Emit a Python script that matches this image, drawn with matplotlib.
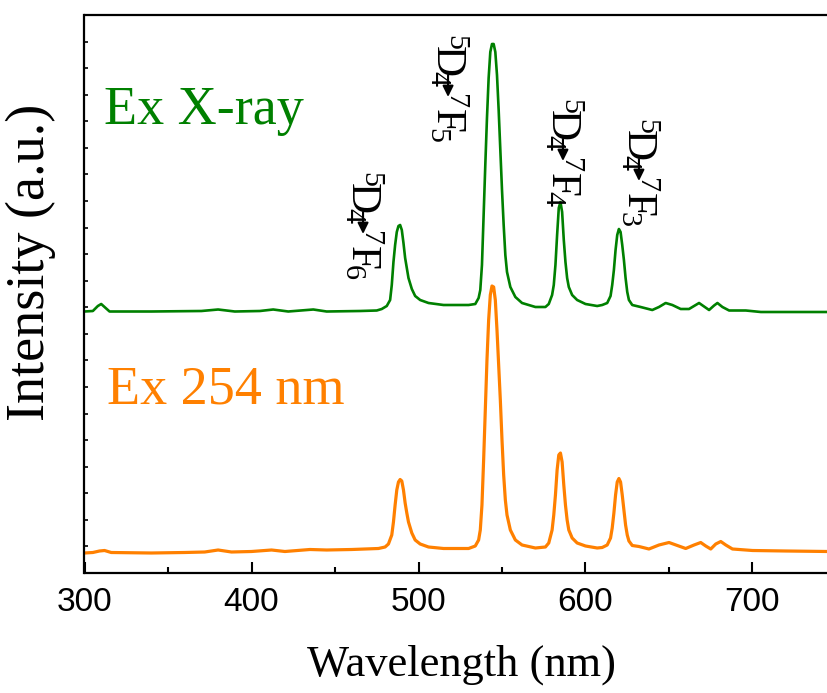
import matplotlib
matplotlib.use("Agg")
import matplotlib.pyplot as plt
from matplotlib.ticker import MultipleLocator

plt.rcParams['mathtext.fontset'] = 'custom'
plt.rcParams['mathtext.rm'] = 'Liberation Serif'
plt.rcParams['mathtext.it'] = 'Liberation Serif:italic'
plt.rcParams['mathtext.bf'] = 'Liberation Serif:bold'

# ---------------- data ----------------
wl_xray = [300, 305, 308, 310, 312, 315, 340, 370, 380, 390, 405, 413, 422, 437, 445,
           465, 475, 478, 481, 483, 484, 485, 486, 487, 488, 489, 490, 491, 492, 493,
           494, 496, 498, 501, 506, 515, 530, 534, 536, 537, 538, 539, 540, 541, 542,
           543, 544, 545, 546, 547, 548, 549, 550, 551, 552, 553, 555, 558, 562, 570,
           576, 578, 580, 581, 582, 583, 584, 585, 586, 587, 588, 589, 590, 592, 595,
           600, 607, 610, 613, 615, 616, 617, 618, 619, 620, 621, 622, 623, 624, 625,
           626, 628, 633, 640, 644, 648, 652, 657, 662, 668, 671, 674, 677, 679, 682,
           686, 696, 705, 745]
int_xray = [261.5, 262, 267, 269, 266, 261.5, 261.5, 262, 263.5, 261.5, 262, 263.5, 261.5, 263.5, 261.5,
            262, 262.5, 264, 267, 273, 288, 311, 328, 341, 347, 348, 343, 330, 315, 305,
            295, 284, 277, 273, 270, 268, 268, 269, 275, 283, 308, 358, 408, 455, 495,
            521, 529, 529, 521, 498, 463, 423, 383, 348, 318, 301, 286, 276, 270, 266,
            266, 269, 278, 288, 308, 338, 365, 371, 361, 333, 311, 295, 286, 278, 273,
            269, 267, 268, 270, 277, 288, 303, 323, 338, 344, 341, 328, 313, 295, 281,
            273, 268, 266, 263, 266, 270, 268, 264, 264, 270, 266.5, 263, 267.5, 270, 266,
            262.5, 262.5, 261, 261]

wl_uv = [300, 305, 309, 312, 316, 340, 360, 372, 380, 388, 400, 412, 420, 435, 445,
         460, 476, 480, 482, 484, 485, 486, 487, 488, 489, 490, 491, 492, 493, 494,
         496, 498, 501, 506, 515, 530, 534, 536, 537, 538, 539, 540, 541, 542, 543,
         544, 545, 546, 547, 548, 549, 550, 551, 552, 553, 555, 558, 562, 570, 576,
         578, 580, 581, 582, 583, 584, 585, 586, 587, 588, 589, 590, 592, 595, 600,
         607, 610, 613, 615, 616, 617, 618, 619, 620, 621, 622, 623, 624, 625, 626,
         628, 632, 638, 644, 650, 655, 660, 665, 669, 672, 675, 678, 681, 684, 688,
         700, 720, 745]
int_uv = [20, 20.5, 22, 22.5, 20.5, 20, 20.5, 21, 23, 21, 21.5, 23, 21.5, 23.5, 23,
          23.5, 24.5, 26, 29, 38, 51, 68, 83, 91, 93.5, 92, 83, 70, 60, 51,
          40, 33, 29, 26, 24.5, 24.5, 27, 33, 43, 68, 113, 163, 213, 253, 278,
          287, 286, 273, 243, 208, 173, 133, 98, 73, 58, 43, 33, 28, 25, 26,
          30, 43, 58, 78, 103, 118, 120, 111, 88, 68, 53, 43, 35, 30, 27,
          25, 25.5, 28, 35, 45, 60, 78, 91, 94.5, 91, 78, 63, 48, 38, 32,
          27.5, 26.5, 24, 28, 30.5, 27.5, 24.5, 28, 30.5, 27, 24, 29, 31.5, 28, 24,
          22.5, 22, 21.5]

series_labels = ["Ex X-ray", "Ex 254 nm"]
series_colors = ["#008000", "#FF8000"]

upper_levels = [r"$^{5}\!$D$\!{}_{4}$"] * 4
lower_levels = [r"$^{7}$F$\!{}_{6}$", r"$^{7}$F$\!{}_{5}$",
                r"$^{7}$F$\!{}_{4}$", r"$^{7}$F$\!{}_{3}$"]
label_x = [466.8, 517.7, 586.5, 632.0]
label_top = [403, 540, 476, 456]

x_ticks = [300, 400, 500, 600, 700]

# ---------------- figure ----------------
fig = plt.figure(figsize=(8.28, 6.93), dpi=100)
ax = fig.add_axes([84.5 / 828, 1 - 573 / 693, 751.5 / 828, 558 / 693])

ax.plot(wl_xray, int_xray, color=series_colors[0], lw=1.9, solid_joinstyle='round')
ax.plot(wl_uv, int_uv, color=series_colors[1], lw=2.3, solid_joinstyle='round')

ax.set_xlim(300, 750)
ax.set_ylim(0, 558)
ax.set_xticks(x_ticks)
ax.set_xticklabels([str(t) for t in x_ticks])
ax.xaxis.set_minor_locator(MultipleLocator(50))
ax.yaxis.set_major_locator(MultipleLocator(558 / 21))
ax.set_yticklabels([])

ax.tick_params(axis='x', which='major', direction='in', length=8, width=1.5,
               labelsize=24, pad=10, top=False)
ax.tick_params(axis='x', which='minor', direction='in', length=4.5, width=1.5, top=False)
ax.tick_params(axis='y', which='major', direction='in', length=3, width=1.2, right=False)
for lab in ax.get_xticklabels():
    lab.set_family(['Liberation Sans', 'DejaVu Sans'])

for s in ['left', 'bottom', 'top']:
    ax.spines[s].set_linewidth(1.6)
ax.spines['right'].set_visible(False)

serif = ['Liberation Serif', 'DejaVu Serif']
ax.text(311.7, 449, series_labels[0], color=series_colors[0], fontsize=39,
        family=serif, ha='left', va='baseline')
ax.text(313.5, 169, series_labels[1], color=series_colors[1], fontsize=39,
        family=serif, ha='left', va='baseline')

for up, low, x, top in zip(upper_levels, lower_levels, label_x, label_top):
    ax.text(x, top, up, rotation=270, fontsize=31, family=serif,
            ha='center', va='top')
    ax.annotate('', xy=(x, top - 64), xytext=(x, top - 42),
                arrowprops=dict(arrowstyle='-|>,head_length=0.65,head_width=0.32',
                                color='black', lw=1.5, shrinkA=0, shrinkB=0,
                                mutation_scale=10))
    ax.text(x, top - 58, low, rotation=270, fontsize=31, family=serif,
            ha='center', va='top')

fig.text(462 / 828, 1 - 665 / 693, "Wavelength (nm)", fontsize=32, family=serif,
         ha='center', va='center')
fig.text(31 / 828, 1 - 262 / 693, "Intensity (a.u.)", fontsize=39, family=serif,
         ha='center', va='center', rotation=90)

fig.savefig("out.png", dpi=100)
